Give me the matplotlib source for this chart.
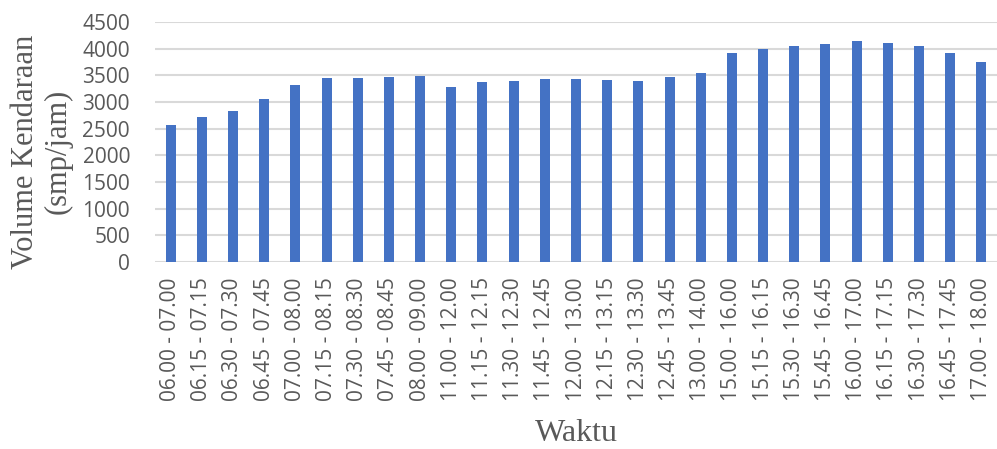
import matplotlib.pyplot as plt
import numpy as np

# Periode pengamatan (interval 1 jam, bergeser tiap 15 menit)
waktu = [
    "06.00 - 07.00", "06.15 - 07.15", "06.30 - 07.30", "06.45 - 07.45",
    "07.00 - 08.00", "07.15 - 08.15", "07.30 - 08.30", "07.45 - 08.45",
    "08.00 - 09.00", "11.00 - 12.00", "11.15 - 12.15", "11.30 - 12.30",
    "11.45 - 12.45", "12.00 - 13.00", "12.15 - 13.15", "12.30 - 13.30",
    "12.45 - 13.45", "13.00 - 14.00", "15.00 - 16.00", "15.15 - 16.15",
    "15.30 - 16.30", "15.45 - 16.45", "16.00 - 17.00", "16.15 - 17.15",
    "16.30 - 17.30", "16.45 - 17.45", "17.00 - 18.00",
]
volume = [
    2575, 2712, 2825, 3062, 3325, 3450, 3456, 3475, 3481,
    3281, 3369, 3387, 3425, 3425, 3406, 3400, 3462, 3550,
    3912, 3994, 4044, 4087, 4137, 4112, 4056, 3925, 3750,
]
y_ticks = [0, 500, 1000, 1500, 2000, 2500, 3000, 3500, 4000, 4500]

fig = plt.figure(figsize=(9.97, 4.49), dpi=100)
ax = fig.add_axes([0.1555, 0.4165, 0.8445, 0.5345])

x = np.arange(len(waktu))
ax.bar(x, volume, width=0.32, color="#4472C4", zorder=3)

ax.set_xlim(-0.5, len(waktu) - 0.5)
ax.set_ylim(0, 4500)
ax.set_yticks(y_ticks)
ax.set_xticks(x)
ax.set_xticklabels(waktu, rotation=90)
ax.grid(axis="y", color="#d9d9d9", linewidth=1.5, zorder=0)
for s in ax.spines.values():
    s.set_visible(False)
ax.tick_params(length=0, labelsize=15, labelcolor="#595959")
ax.tick_params(axis="y", pad=18)
ax.tick_params(axis="x", pad=11)
for lbl in ax.get_xticklabels() + ax.get_yticklabels():
    lbl.set_family("Open Sans")

ax.set_ylabel("Volume Kendaraan\n(smp/jam)", family="Liberation Serif",
              fontsize=22, color="#595959", linespacing=1.15)
ax.yaxis.set_label_coords(-0.098, 0.46)
ax.set_xlabel("Waktu", family="Liberation Serif", fontsize=23,
              color="#595959", labelpad=13)

fig.savefig("out.png", dpi=100)
